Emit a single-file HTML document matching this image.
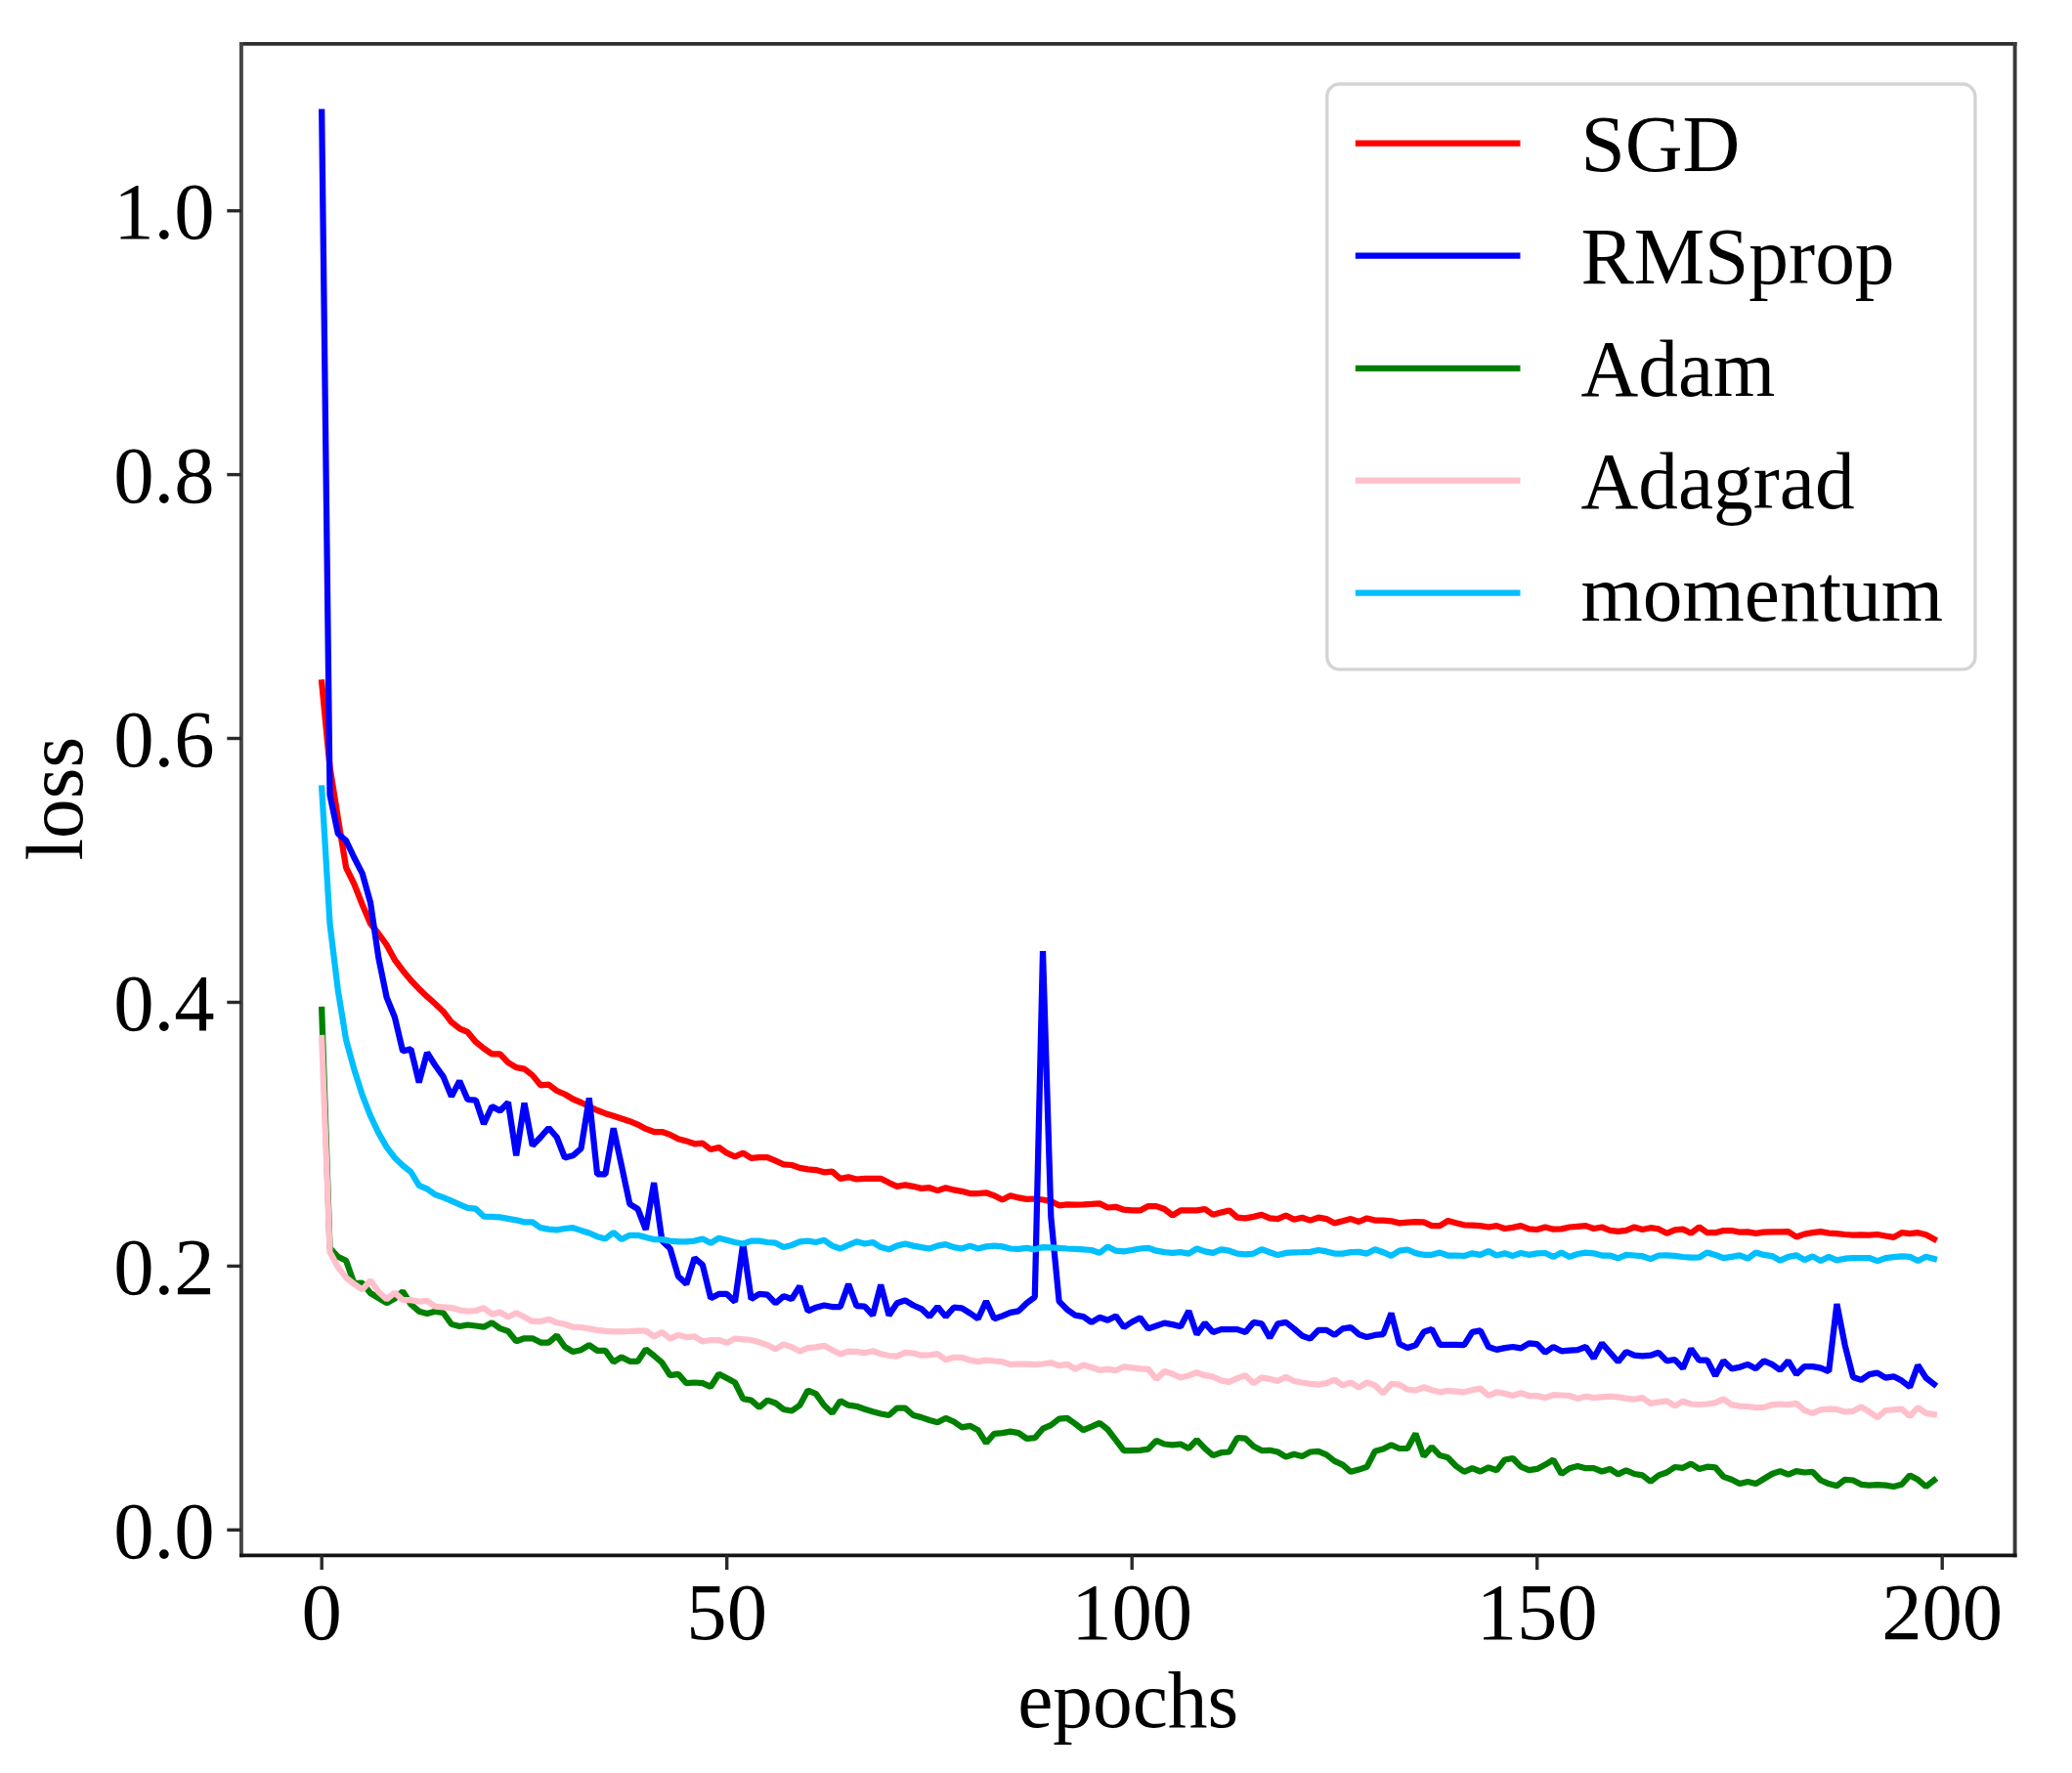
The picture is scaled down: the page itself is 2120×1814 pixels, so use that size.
<!DOCTYPE html>
<html lang="en"><head><meta charset="utf-8"><title>loss vs epochs</title>
<style>html,body{margin:0;padding:0;background:#fff}body{width:2120px;height:1814px;overflow:hidden}svg{display:block}text{font-family:"Liberation Serif",serif;font-size:82.7px;fill:#000}</style></head><body>
<svg width="2120" height="1814" viewBox="0 0 2120 1814">
<rect width="2120" height="1814" fill="#fff"/>
<g fill="none" stroke-width="6.25" stroke-linejoin="bevel" stroke-linecap="square">
<polyline stroke="#ff0000" points="329.2,698.4 337.5,784.8 345.8,837.0 354.1,887.7 362.4,904.5 370.7,925.5 379.0,945.0 387.3,955.2 395.6,966.8 403.9,982.0 412.1,992.9 420.4,1003.0 428.7,1011.7 437.0,1019.7 445.3,1027.0 453.6,1034.9 461.9,1045.8 470.2,1052.3 478.5,1055.9 486.8,1066.0 495.0,1072.6 503.3,1078.4 511.6,1078.4 519.9,1087.1 528.2,1092.2 536.5,1093.6 544.8,1100.1 553.1,1110.3 561.4,1109.6 569.7,1116.0 577.9,1119.5 586.2,1124.5 594.5,1128.0 602.8,1132.0 611.1,1136.0 619.4,1139.2 627.7,1141.8 636.0,1144.5 644.3,1147.2 652.6,1150.6 660.8,1154.9 669.1,1158.0 677.4,1158.0 685.7,1160.9 694.0,1165.2 702.3,1167.4 710.6,1170.3 718.9,1169.6 727.2,1176.1 735.5,1173.9 743.7,1179.7 752.0,1183.3 760.3,1179.7 768.6,1184.8 776.9,1184.1 785.2,1184.1 793.5,1187.7 801.8,1191.3 810.1,1192.0 818.3,1194.9 826.6,1196.4 834.9,1197.1 843.2,1199.3 851.5,1198.6 859.8,1205.8 868.1,1204.3 876.4,1206.5 884.7,1205.8 893.0,1205.8 901.2,1205.8 909.5,1210.1 917.8,1213.8 926.1,1212.3 934.4,1213.8 942.7,1215.9 951.0,1215.2 959.3,1218.1 967.6,1215.2 975.9,1217.4 984.1,1218.8 992.4,1221.0 1000.7,1221.0 1009.0,1220.3 1017.3,1223.2 1025.6,1227.5 1033.9,1223.2 1042.2,1225.4 1050.5,1226.8 1058.8,1226.5 1067.0,1227.5 1075.3,1229.0 1083.6,1233.3 1091.9,1232.3 1100.2,1232.6 1108.5,1232.3 1116.8,1231.9 1125.1,1231.4 1133.4,1235.5 1141.7,1234.8 1149.9,1237.7 1158.2,1238.4 1166.5,1238.4 1174.8,1234.1 1183.1,1234.1 1191.4,1237.0 1199.7,1243.5 1208.0,1238.4 1216.3,1238.4 1224.5,1238.4 1232.8,1237.0 1241.1,1242.8 1249.4,1240.6 1257.7,1238.4 1266.0,1245.7 1274.3,1246.4 1282.6,1244.9 1290.9,1242.8 1299.2,1246.4 1307.4,1247.1 1315.7,1243.5 1324.0,1247.8 1332.3,1245.7 1340.6,1248.6 1348.9,1245.7 1357.2,1247.1 1365.5,1251.4 1373.8,1249.3 1382.1,1247.1 1390.3,1250.0 1398.6,1246.4 1406.9,1248.6 1415.2,1248.6 1423.5,1249.3 1431.8,1251.4 1440.1,1250.7 1448.4,1250.1 1456.7,1250.4 1465.0,1254.1 1473.2,1254.1 1481.5,1249.0 1489.8,1251.2 1498.1,1253.3 1506.4,1253.6 1514.7,1254.1 1523.0,1255.5 1531.3,1254.1 1539.6,1257.0 1547.9,1255.9 1556.1,1254.1 1564.4,1257.4 1572.7,1258.0 1581.0,1255.5 1589.3,1257.7 1597.6,1257.4 1605.9,1255.5 1614.2,1254.8 1622.5,1254.1 1630.7,1257.0 1639.0,1255.5 1647.3,1258.8 1655.6,1259.9 1663.9,1258.8 1672.2,1255.5 1680.5,1258.0 1688.8,1256.2 1697.1,1257.4 1705.4,1261.8 1713.6,1258.3 1721.9,1257.6 1730.2,1261.8 1738.5,1255.4 1746.8,1261.2 1755.1,1261.2 1763.4,1259.0 1771.7,1259.0 1780.0,1260.7 1788.3,1260.4 1796.5,1261.9 1804.8,1260.7 1813.1,1260.4 1821.4,1260.4 1829.7,1260.1 1838.0,1265.5 1846.3,1262.6 1854.6,1261.2 1862.9,1260.1 1871.2,1261.6 1879.4,1262.2 1887.7,1263.0 1896.0,1263.6 1904.3,1263.3 1912.6,1263.6 1920.9,1263.0 1929.2,1264.5 1937.5,1265.9 1945.8,1261.2 1954.1,1262.2 1962.3,1261.2 1970.6,1263.3 1978.9,1267.7"/>
<polyline stroke="#0000ff" points="329.2,114.6 337.5,813.0 345.8,852.9 354.1,860.0 362.4,877.5 370.7,893.6 379.0,923.3 387.3,979.9 395.6,1020.4 403.9,1040.7 412.1,1075.5 420.4,1073.3 428.7,1107.4 437.0,1077.0 445.3,1090.0 453.6,1101.6 461.9,1121.9 470.2,1105.9 478.5,1125.0 486.8,1125.6 495.0,1150.0 503.3,1132.0 511.6,1136.5 519.9,1127.8 528.2,1182.3 536.5,1128.5 544.8,1172.2 553.1,1163.5 561.4,1154.0 569.7,1163.5 577.9,1184.5 586.2,1182.3 594.5,1175.2 602.8,1123.4 611.1,1201.4 619.4,1201.4 627.7,1154.3 636.0,1192.8 644.3,1231.9 652.6,1237.0 660.8,1258.0 669.1,1210.1 677.4,1269.6 685.7,1277.5 694.0,1305.8 702.3,1313.8 710.6,1287.0 718.9,1294.2 727.2,1328.3 735.5,1323.9 743.7,1323.9 752.0,1331.9 760.3,1272.5 768.6,1329.0 776.9,1323.9 785.2,1324.6 793.5,1333.3 801.8,1326.1 810.1,1329.0 818.3,1315.9 826.6,1341.3 834.9,1337.7 843.2,1335.5 851.5,1337.0 859.8,1337.0 868.1,1313.8 876.4,1336.2 884.7,1336.6 893.0,1345.7 901.2,1314.5 909.5,1345.7 917.8,1333.3 926.1,1330.4 934.4,1335.5 942.7,1339.1 951.0,1347.1 959.3,1337.0 967.6,1347.1 975.9,1337.7 984.1,1338.4 992.4,1343.5 1000.7,1349.3 1009.0,1331.2 1017.3,1349.3 1025.6,1346.4 1033.9,1342.8 1042.2,1341.3 1050.5,1333.3 1058.8,1327.0 1067.0,973.0 1075.3,1245.0 1083.6,1331.3 1091.9,1339.9 1100.2,1345.7 1108.5,1347.1 1116.8,1352.9 1125.1,1347.8 1133.4,1350.7 1141.7,1346.4 1149.9,1358.0 1158.2,1352.5 1166.5,1348.2 1174.8,1359.4 1183.1,1356.5 1191.4,1353.6 1199.7,1355.1 1208.0,1357.2 1216.3,1341.3 1224.5,1365.2 1232.8,1353.6 1241.1,1363.0 1249.4,1360.1 1257.7,1360.1 1266.0,1360.1 1274.3,1363.0 1282.6,1352.9 1290.9,1354.3 1299.2,1368.8 1307.4,1354.3 1315.7,1352.9 1324.0,1359.4 1332.3,1366.7 1340.6,1369.6 1348.9,1360.9 1357.2,1360.9 1365.5,1365.9 1373.8,1359.4 1382.1,1358.0 1390.3,1365.2 1398.6,1368.1 1406.9,1365.9 1415.2,1365.2 1423.5,1343.5 1431.8,1375.0 1440.1,1379.0 1448.4,1376.3 1456.7,1362.8 1465.0,1359.9 1473.2,1375.8 1481.5,1375.8 1489.8,1375.8 1498.1,1376.2 1506.4,1362.8 1514.7,1361.3 1523.0,1378.0 1531.3,1380.9 1539.6,1379.1 1547.9,1378.0 1556.1,1379.4 1564.4,1374.3 1572.7,1375.1 1581.0,1383.8 1589.3,1378.0 1597.6,1382.3 1605.9,1381.6 1614.2,1381.2 1622.5,1378.0 1630.7,1389.6 1639.0,1374.3 1647.3,1383.8 1655.6,1393.2 1663.9,1383.0 1672.2,1386.7 1680.5,1387.4 1688.8,1386.7 1697.1,1383.8 1705.4,1392.4 1713.6,1391.0 1721.9,1400.0 1730.2,1380.0 1738.5,1391.6 1746.8,1391.6 1755.1,1407.5 1763.4,1392.3 1771.7,1400.3 1780.0,1398.8 1788.3,1395.9 1796.5,1400.3 1804.8,1392.3 1813.1,1395.9 1821.4,1401.7 1829.7,1392.3 1838.0,1406.1 1846.3,1398.1 1854.6,1398.1 1862.9,1399.6 1871.2,1403.2 1879.4,1334.0 1887.7,1376.4 1896.0,1409.0 1904.3,1411.9 1912.6,1406.1 1920.9,1404.6 1929.2,1409.7 1937.5,1408.3 1945.8,1412.6 1954.1,1419.1 1962.3,1396.7 1970.6,1409.7 1978.9,1416.2"/>
<polyline stroke="#008000" points="329.2,1033.0 337.5,1276.8 345.8,1285.8 354.1,1289.8 362.4,1313.2 370.7,1312.6 379.0,1323.0 387.3,1328.1 395.6,1333.2 403.9,1328.6 412.1,1321.2 420.4,1334.5 428.7,1341.7 437.0,1343.9 445.3,1341.7 453.6,1343.2 461.9,1354.8 470.2,1357.0 478.5,1355.5 486.8,1356.5 495.0,1357.7 503.3,1353.3 511.6,1359.1 519.9,1362.0 528.2,1372.2 536.5,1369.3 544.8,1369.3 553.1,1373.6 561.4,1373.6 569.7,1366.4 577.9,1378.0 586.2,1383.0 594.5,1381.2 602.8,1376.1 611.1,1381.9 619.4,1381.9 627.7,1393.5 636.0,1388.4 644.3,1392.8 652.6,1392.8 660.8,1380.4 669.1,1387.0 677.4,1394.2 685.7,1407.2 694.0,1405.8 702.3,1415.2 710.6,1414.5 718.9,1415.2 727.2,1418.8 735.5,1405.8 743.7,1410.1 752.0,1414.5 760.3,1431.2 768.6,1432.6 776.9,1439.9 785.2,1432.6 793.5,1435.5 801.8,1442.0 810.1,1443.5 818.3,1437.7 826.6,1422.5 834.9,1426.1 843.2,1437.7 851.5,1445.7 859.8,1433.3 868.1,1437.7 876.4,1438.8 884.7,1441.8 893.0,1444.3 901.2,1446.5 909.5,1448.0 917.8,1440.7 926.1,1440.7 934.4,1448.0 942.7,1450.1 951.0,1453.0 959.3,1455.2 967.6,1450.9 975.9,1454.5 984.1,1460.3 992.4,1458.8 1000.7,1463.2 1009.0,1476.2 1017.3,1466.8 1025.6,1466.1 1033.9,1464.6 1042.2,1466.1 1050.5,1471.9 1058.8,1471.2 1067.0,1461.7 1075.3,1458.1 1083.6,1451.6 1091.9,1450.9 1100.2,1456.7 1108.5,1463.2 1116.8,1459.6 1125.1,1455.9 1133.4,1462.5 1141.7,1473.3 1149.9,1484.2 1158.2,1484.2 1166.5,1483.8 1174.8,1482.6 1183.1,1473.9 1191.4,1477.5 1199.7,1478.3 1208.0,1477.5 1216.3,1481.9 1224.5,1473.2 1232.8,1481.9 1241.1,1489.1 1249.4,1486.2 1257.7,1485.5 1266.0,1471.0 1274.3,1471.7 1282.6,1479.7 1290.9,1484.1 1299.2,1483.8 1307.4,1485.5 1315.7,1490.6 1324.0,1487.7 1332.3,1489.9 1340.6,1485.5 1348.9,1484.8 1357.2,1488.4 1365.5,1494.9 1373.8,1498.6 1382.1,1505.8 1390.3,1503.6 1398.6,1500.7 1406.9,1484.8 1415.2,1482.6 1423.5,1478.3 1431.8,1482.0 1440.1,1481.9 1448.4,1466.7 1456.7,1489.9 1465.0,1480.4 1473.2,1489.1 1481.5,1491.3 1489.8,1500.0 1498.1,1505.8 1506.4,1502.2 1514.7,1505.5 1523.0,1501.4 1531.3,1504.3 1539.6,1493.5 1547.9,1492.0 1556.1,1500.7 1564.4,1504.1 1572.7,1502.9 1581.0,1498.6 1589.3,1493.5 1597.6,1508.0 1605.9,1502.2 1614.2,1500.0 1622.5,1502.2 1630.7,1502.2 1639.0,1505.5 1647.3,1502.9 1655.6,1508.4 1663.9,1504.3 1672.2,1508.0 1680.5,1509.4 1688.8,1515.9 1697.1,1509.4 1705.4,1506.5 1713.6,1501.0 1721.9,1501.8 1730.2,1497.5 1738.5,1502.9 1746.8,1500.7 1755.1,1501.4 1763.4,1510.9 1771.7,1513.8 1780.0,1518.1 1788.3,1515.9 1796.5,1518.1 1804.8,1513.0 1813.1,1508.0 1821.4,1505.1 1829.7,1508.7 1838.0,1505.1 1846.3,1506.5 1854.6,1505.8 1862.9,1514.5 1871.2,1518.1 1879.4,1520.3 1887.7,1513.8 1896.0,1514.5 1904.3,1518.8 1912.6,1519.6 1920.9,1519.1 1929.2,1519.6 1937.5,1521.0 1945.8,1518.8 1954.1,1509.4 1962.3,1513.8 1970.6,1521.0 1978.9,1514.5"/>
<polyline stroke="#ffc0cb" points="329.2,1062.0 337.5,1281.0 345.8,1296.3 354.1,1307.2 362.4,1313.7 370.7,1319.5 379.0,1310.0 387.3,1321.6 395.6,1329.3 403.9,1322.6 412.1,1330.1 420.4,1330.1 428.7,1331.6 437.0,1330.9 445.3,1336.7 453.6,1337.4 461.9,1338.1 470.2,1340.3 478.5,1341.7 486.8,1341.0 495.0,1338.1 503.3,1344.6 511.6,1342.5 519.9,1347.5 528.2,1343.2 536.5,1347.5 544.8,1351.9 553.1,1351.9 561.4,1349.7 569.7,1353.3 577.9,1354.8 586.2,1357.7 594.5,1358.0 602.8,1359.4 611.1,1360.9 619.4,1361.9 627.7,1362.3 636.0,1362.3 644.3,1362.0 652.6,1361.6 660.8,1361.6 669.1,1367.4 677.4,1363.0 685.7,1369.6 694.0,1365.9 702.3,1368.1 710.6,1367.4 718.9,1372.5 727.2,1371.0 735.5,1371.0 743.7,1373.9 752.0,1369.6 760.3,1370.3 768.6,1371.0 776.9,1373.2 785.2,1376.1 793.5,1380.4 801.8,1375.4 810.1,1378.3 818.3,1382.6 826.6,1379.0 834.9,1378.3 843.2,1376.8 851.5,1381.2 859.8,1385.5 868.1,1382.6 876.4,1382.8 884.7,1384.3 893.0,1382.3 901.2,1385.2 909.5,1387.0 917.8,1387.7 926.1,1383.8 934.4,1384.5 942.7,1386.7 951.0,1386.3 959.3,1385.2 967.6,1391.3 975.9,1388.8 984.1,1388.8 992.4,1391.7 1000.7,1393.2 1009.0,1391.7 1017.3,1392.5 1025.6,1393.2 1033.9,1396.1 1042.2,1395.5 1050.5,1395.6 1058.8,1396.1 1067.0,1395.5 1075.3,1394.3 1083.6,1397.2 1091.9,1395.8 1100.2,1400.8 1108.5,1396.5 1116.8,1399.0 1125.1,1401.8 1133.4,1400.8 1141.7,1402.2 1149.9,1398.3 1158.2,1399.3 1166.5,1400.4 1174.8,1400.7 1183.1,1410.9 1191.4,1402.9 1199.7,1405.8 1208.0,1409.4 1216.3,1407.2 1224.5,1404.3 1232.8,1407.2 1241.1,1408.7 1249.4,1412.3 1257.7,1413.8 1266.0,1410.1 1274.3,1407.2 1282.6,1415.2 1290.9,1409.4 1299.2,1410.9 1307.4,1413.0 1315.7,1408.7 1324.0,1413.0 1332.3,1414.5 1340.6,1415.9 1348.9,1416.7 1357.2,1415.2 1365.5,1411.6 1373.8,1417.4 1382.1,1414.5 1390.3,1419.6 1398.6,1414.5 1406.9,1417.4 1415.2,1425.4 1423.5,1415.9 1431.8,1416.7 1440.1,1421.5 1448.4,1422.7 1456.7,1419.3 1465.0,1422.2 1473.2,1424.3 1481.5,1422.9 1489.8,1423.6 1498.1,1424.3 1506.4,1422.2 1514.7,1420.7 1523.0,1428.0 1531.3,1424.3 1539.6,1425.8 1547.9,1428.0 1556.1,1425.1 1564.4,1428.0 1572.7,1428.0 1581.0,1430.1 1589.3,1427.2 1597.6,1427.5 1605.9,1428.0 1614.2,1430.9 1622.5,1428.7 1630.7,1430.1 1639.0,1429.4 1647.3,1428.7 1655.6,1429.4 1663.9,1430.9 1672.2,1431.6 1680.5,1430.1 1688.8,1435.9 1697.1,1434.5 1705.4,1433.3 1713.6,1438.4 1721.9,1433.7 1730.2,1436.5 1738.5,1437.0 1746.8,1436.5 1755.1,1435.1 1763.4,1431.4 1771.7,1437.2 1780.0,1438.7 1788.3,1439.0 1796.5,1440.1 1804.8,1439.9 1813.1,1437.2 1821.4,1436.5 1829.7,1437.2 1838.0,1435.8 1846.3,1443.0 1854.6,1445.9 1862.9,1442.3 1871.2,1441.6 1879.4,1441.9 1887.7,1444.5 1896.0,1443.8 1904.3,1439.4 1912.6,1444.5 1920.9,1450.3 1929.2,1443.0 1937.5,1442.3 1945.8,1441.6 1954.1,1448.8 1962.3,1440.1 1970.6,1445.9 1978.9,1447.1"/>
<polyline stroke="#00bfff" points="329.2,806.5 337.5,945.0 345.8,1013.2 354.1,1063.9 362.4,1094.3 370.7,1120.4 379.0,1141.7 387.3,1159.1 395.6,1173.6 403.9,1184.5 412.1,1192.5 420.4,1199.0 428.7,1212.8 437.0,1216.4 445.3,1222.2 453.6,1225.1 461.9,1228.7 470.2,1232.3 478.5,1235.9 486.8,1236.7 495.0,1244.6 503.3,1244.9 511.6,1245.4 519.9,1246.8 528.2,1248.3 536.5,1250.4 544.8,1250.4 553.1,1256.2 561.4,1257.7 569.7,1258.4 577.9,1257.0 586.2,1256.2 594.5,1258.9 602.8,1261.5 611.1,1265.2 619.4,1267.4 627.7,1260.9 636.0,1268.1 644.3,1263.8 652.6,1263.8 660.8,1265.9 669.1,1268.1 677.4,1268.1 685.7,1269.6 694.0,1270.3 702.3,1270.3 710.6,1269.6 718.9,1267.4 727.2,1271.7 735.5,1266.7 743.7,1268.8 752.0,1271.0 760.3,1272.5 768.6,1269.6 776.9,1269.6 785.2,1271.0 793.5,1271.7 801.8,1276.1 810.1,1273.9 818.3,1270.3 826.6,1269.6 834.9,1271.0 843.2,1268.8 851.5,1274.6 859.8,1277.5 868.1,1273.9 876.4,1270.3 884.7,1272.5 893.0,1271.0 901.2,1276.1 909.5,1278.3 917.8,1274.6 926.1,1272.5 934.4,1274.6 942.7,1276.1 951.0,1277.5 959.3,1274.6 967.6,1273.2 975.9,1276.1 984.1,1277.5 992.4,1274.6 1000.7,1277.5 1009.0,1275.4 1017.3,1274.6 1025.6,1275.4 1033.9,1277.5 1042.2,1277.8 1050.5,1276.8 1058.8,1278.3 1067.0,1276.1 1075.3,1276.4 1083.6,1276.8 1091.9,1277.5 1100.2,1277.8 1108.5,1278.3 1116.8,1279.0 1125.1,1281.9 1133.4,1275.4 1141.7,1279.7 1149.9,1280.4 1158.2,1279.0 1166.5,1277.5 1174.8,1276.8 1183.1,1279.7 1191.4,1281.2 1199.7,1281.9 1208.0,1281.2 1216.3,1282.6 1224.5,1277.5 1232.8,1280.4 1241.1,1281.9 1249.4,1278.3 1257.7,1279.7 1266.0,1282.6 1274.3,1283.3 1282.6,1282.6 1290.9,1278.3 1299.2,1281.2 1307.4,1284.1 1315.7,1281.9 1324.0,1281.4 1332.3,1281.2 1340.6,1280.9 1348.9,1279.0 1357.2,1280.4 1365.5,1282.6 1373.8,1282.6 1382.1,1281.2 1390.3,1280.9 1398.6,1282.6 1406.9,1278.3 1415.2,1281.2 1423.5,1284.8 1431.8,1279.7 1440.1,1278.5 1448.4,1282.1 1456.7,1283.8 1465.0,1283.8 1473.2,1281.6 1481.5,1284.5 1489.8,1284.5 1498.1,1284.9 1506.4,1282.3 1514.7,1283.8 1523.0,1280.1 1531.3,1284.5 1539.6,1282.3 1547.9,1284.9 1556.1,1282.0 1564.4,1283.8 1572.7,1282.3 1581.0,1282.0 1589.3,1285.9 1597.6,1281.6 1605.9,1285.9 1614.2,1283.0 1622.5,1281.6 1630.7,1282.3 1639.0,1284.5 1647.3,1284.5 1655.6,1287.4 1663.9,1283.8 1672.2,1284.5 1680.5,1285.2 1688.8,1288.1 1697.1,1284.5 1705.4,1284.3 1713.6,1284.8 1721.9,1286.0 1730.2,1286.7 1738.5,1286.5 1746.8,1281.4 1755.1,1283.9 1763.4,1287.2 1771.7,1285.8 1780.0,1284.3 1788.3,1287.7 1796.5,1281.4 1804.8,1283.9 1813.1,1285.1 1821.4,1289.7 1829.7,1285.8 1838.0,1284.3 1846.3,1289.1 1854.6,1285.4 1862.9,1290.1 1871.2,1285.8 1879.4,1289.4 1887.7,1287.7 1896.0,1287.2 1904.3,1287.0 1912.6,1287.0 1920.9,1290.1 1929.2,1287.2 1937.5,1286.2 1945.8,1285.4 1954.1,1285.8 1962.3,1290.1 1970.6,1285.8 1978.9,1288.0"/>
</g>
<g stroke-width="3.9" stroke-linecap="square">
<line x1="246.9" y1="44.9" x2="2061.6" y2="44.9" stroke="#2e2e2e"/>
<line x1="2061.6" y1="44.9" x2="2061.6" y2="1591.4" stroke="#3a3a3a"/>
<line x1="246.9" y1="44.9" x2="246.9" y2="1591.4" stroke="#454545"/>
<line x1="246.9" y1="1591.4" x2="2061.6" y2="1591.4" stroke="#141414"/>
</g>
<g stroke="#2a2a2a" stroke-width="3.4">
<line x1="329.2" y1="1591.4" x2="329.2" y2="1606.1"/>
<line x1="743.7" y1="1591.4" x2="743.7" y2="1606.1"/>
<line x1="1158.2" y1="1591.4" x2="1158.2" y2="1606.1"/>
<line x1="1572.7" y1="1591.4" x2="1572.7" y2="1606.1"/>
<line x1="1987.2" y1="1591.4" x2="1987.2" y2="1606.1"/>
<line x1="232.3" y1="1565.3" x2="246.9" y2="1565.3"/>
<line x1="232.3" y1="1295.4" x2="246.9" y2="1295.4"/>
<line x1="232.3" y1="1025.5" x2="246.9" y2="1025.5"/>
<line x1="232.3" y1="755.5" x2="246.9" y2="755.5"/>
<line x1="232.3" y1="485.6" x2="246.9" y2="485.6"/>
<line x1="232.3" y1="215.7" x2="246.9" y2="215.7"/>
</g>
<text transform="translate(329.2,1676.8) scale(1.0,1)" text-anchor="middle">0</text>
<text transform="translate(743.7,1676.8) scale(1.0,1)" text-anchor="middle">50</text>
<text transform="translate(1158.2,1676.8) scale(1.0,1)" text-anchor="middle">100</text>
<text transform="translate(1572.7,1676.8) scale(1.0,1)" text-anchor="middle">150</text>
<text transform="translate(1987.2,1676.8) scale(1.0,1)" text-anchor="middle">200</text>
<text transform="translate(219.6,1593.8) scale(1.0,1)" text-anchor="end">0.0</text>
<text transform="translate(219.6,1323.9) scale(1.0,1)" text-anchor="end">0.2</text>
<text transform="translate(219.6,1054.0) scale(1.0,1)" text-anchor="end">0.4</text>
<text transform="translate(219.6,784.0) scale(1.0,1)" text-anchor="end">0.6</text>
<text transform="translate(219.6,514.1) scale(1.0,1)" text-anchor="end">0.8</text>
<text transform="translate(219.6,244.2) scale(1.0,1)" text-anchor="end">1.0</text>
<text transform="translate(1154.2,1767.3) scale(0.984,1)" text-anchor="middle">epochs</text>
<text transform="translate(84.4,817.2) rotate(-90) scale(0.984,1)" text-anchor="middle">loss</text>
<rect x="1357.8" y="86.0" width="663.1" height="598.9" rx="13" ry="13" fill="#fff" fill-opacity="0.8" stroke="#d4d4d4" stroke-width="3.4"/>
<line x1="1386.8" y1="146.5" x2="1555.5" y2="146.5" stroke="#ff0000" stroke-width="6.25"/>
<text transform="translate(1617.5,174.5) scale(0.984,1)">SGD</text>
<line x1="1386.8" y1="261.5" x2="1555.5" y2="261.5" stroke="#0000ff" stroke-width="6.25"/>
<text transform="translate(1617.5,289.5) scale(0.984,1)">RMSprop</text>
<line x1="1386.8" y1="376.9" x2="1555.5" y2="376.9" stroke="#008000" stroke-width="6.25"/>
<text transform="translate(1617.5,404.9) scale(0.984,1)">Adam</text>
<line x1="1386.8" y1="491.5" x2="1555.5" y2="491.5" stroke="#ffc0cb" stroke-width="6.25"/>
<text transform="translate(1617.5,519.5) scale(0.984,1)">Adagrad</text>
<line x1="1386.8" y1="606.6" x2="1555.5" y2="606.6" stroke="#00bfff" stroke-width="6.25"/>
<text transform="translate(1617.5,634.6) scale(0.984,1)">momentum</text>
</svg></body></html>
